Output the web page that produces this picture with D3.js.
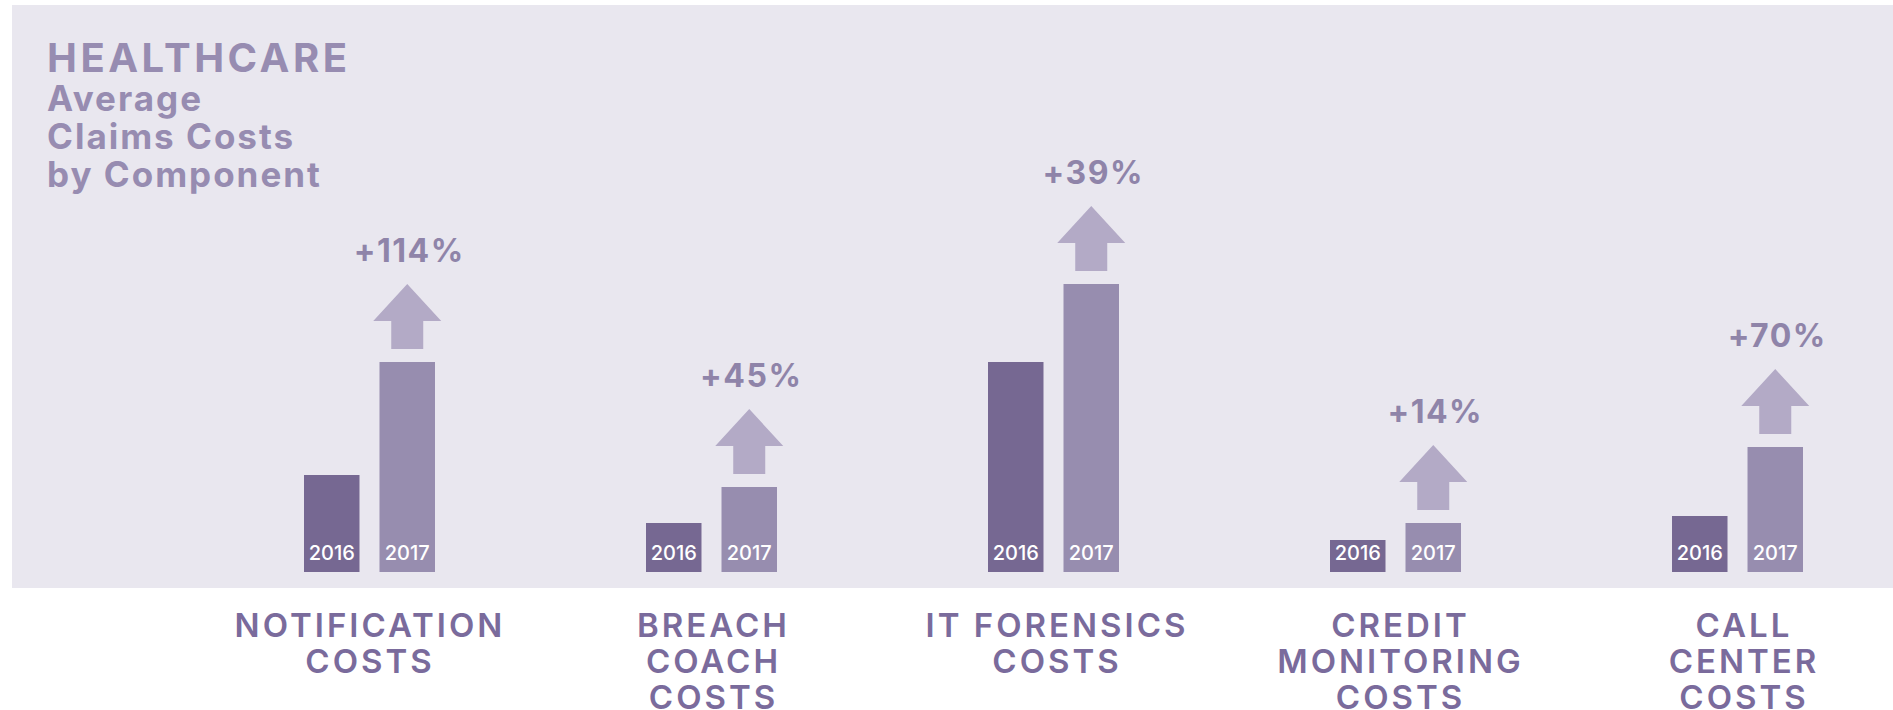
<!DOCTYPE html>
<html>
<head>
<meta charset="utf-8">
<script src="https://cdn.jsdelivr.net/npm/d3@7"></script>
<style>
  body { margin: 0; background: #ffffff; }
  svg { display: block; font-family: Inter, "Open Sans", sans-serif; }
</style>
</head>
<body>
<div id="chart"></div>
<script>
// values (relative cost units, 2016 vs 2017)
var categories = ["notification", "breach", "forensics", "credit", "callcenter"];
var categoryLines = [
  ["NOTIFICATION", "COSTS"],
  ["BREACH", "COACH", "COSTS"],
  ["IT FORENSICS", "COSTS"],
  ["CREDIT", "MONITORING", "COSTS"],
  ["CALL", "CENTER", "COSTS"]
];
var years = ["2016", "2017"];
var costs2016 = [97, 49, 210, 32, 56];
var costs2017 = [210, 85, 288, 49, 125];
var changeLabels = ["+114%", "+45%", "+39%", "+14%", "+70%"];
var titleLines = ["Average", "Claims Costs", "by Component"];

var width = 1893, height = 710;
var baseY = 572;

var svg = d3.select("#chart").append("svg")
    .attr("width", width)
    .attr("height", height);

// light panel behind the bars
svg.append("rect")
    .attr("x", 12).attr("y", 5)
    .attr("width", width - 12).attr("height", 583)
    .attr("fill", "#e9e7ef");

// --> scales
var x0 = d3.scaleBand()
    .domain(categories)
    .range([304, 1803])
    .paddingInner(0.617)
    .paddingOuter(0);

var x1 = d3.scaleBand()
    .domain(years)
    .range([0, x0.bandwidth()])
    .paddingInner(0.265);

// labels under the panel sit a little off the group centres
var xLabel = d3.scalePoint()
    .domain(categories)
    .range([370, 1744]);

var y = d3.scaleLinear()
    .domain([0, 288])
    .range([baseY, 284]);

var rows = categories.map(function(c, i) {
  return { id: c, lines: categoryLines[i], v2016: costs2016[i], v2017: costs2017[i], change: changeLabels[i] };
});

var colors = { "2016": "#766892", "2017": "#978daf" };

// title
var title = svg.append("g").attr("fill", "#978cb1").style("font-weight", 700);
title.append("text")
    .attr("x", 47).attr("y", 72)
    .style("font-size", "40px")
    .style("letter-spacing", "3.5px")
    .text("HEALTHCARE");
title.selectAll("text.sub")
    .data(titleLines)
  .enter().append("text")
    .attr("class", "sub")
    .attr("x", 47)
    .attr("y", function(d, i) { return 111 + i * 38; })
    .style("font-size", "35px")
    .style("letter-spacing", "2px")
    .text(function(d) { return d; });

// groups
var groups = svg.selectAll("g.group")
    .data(rows)
  .enter().append("g")
    .attr("class", "group")
    .attr("transform", function(d) { return "translate(" + x0(d.id) + ",0)"; });

years.forEach(function(yr) {
  groups.append("rect")
      .attr("x", x1(yr))
      .attr("width", x1.bandwidth())
      .attr("y", function(d) { return y(d["v" + yr]); })
      .attr("height", function(d) { return baseY - y(d["v" + yr]); })
      .attr("fill", colors[yr]);

  groups.append("text")
      .attr("x", x1(yr) + x1.bandwidth() / 2)
      .attr("y", baseY - 12)
      .attr("text-anchor", "middle")
      .attr("fill", "#ffffff")
      .style("font-size", "20px")
      .style("font-weight", 500)
      .text(yr);
});

// up arrows above the 2017 bar
var cx = x1("2017") + x1.bandwidth() / 2;
groups.append("path")
    .attr("fill", "#b3aac6")
    .attr("d", function(d) {
      var top = y(d.v2017);
      var s0 = top - 13, s1 = top - 41, tip = top - 78;
      return "M" + (cx - 16) + "," + s0 +
        "L" + (cx + 16) + "," + s0 +
        "L" + (cx + 16) + "," + s1 +
        "L" + (cx + 34) + "," + s1 +
        "L" + cx + "," + tip +
        "L" + (cx - 34) + "," + s1 +
        "L" + (cx - 16) + "," + s1 + "Z";
    });

groups.append("text")
    .attr("x", cx + 2)
    .attr("y", function(d) { return y(d.v2017) - 100; })
    .attr("text-anchor", "middle")
    .attr("fill", "#8f84a9")
    .style("font-size", "32px")
    .style("font-weight", 700)
    .style("letter-spacing", "1.5px")
    .text(function(d) { return d.change; });

// category labels under the panel
var labels = svg.selectAll("g.cat")
    .data(rows)
  .enter().append("g")
    .attr("class", "cat")
    .attr("transform", function(d) { return "translate(" + xLabel(d.id) + ",0)"; });

labels.each(function(d) {
  d3.select(this).selectAll("text")
      .data(d.lines)
    .enter().append("text")
      .attr("x", 0)
      .attr("y", function(l, i) { return 637 + i * 36; })
      .attr("text-anchor", "middle")
      .attr("fill", "#7a6b9c")
      .style("font-size", "33px")
      .style("font-weight", 600)
      .style("letter-spacing", "3px")
      .text(function(l) { return l; });
});
</script>
</body>
</html>
